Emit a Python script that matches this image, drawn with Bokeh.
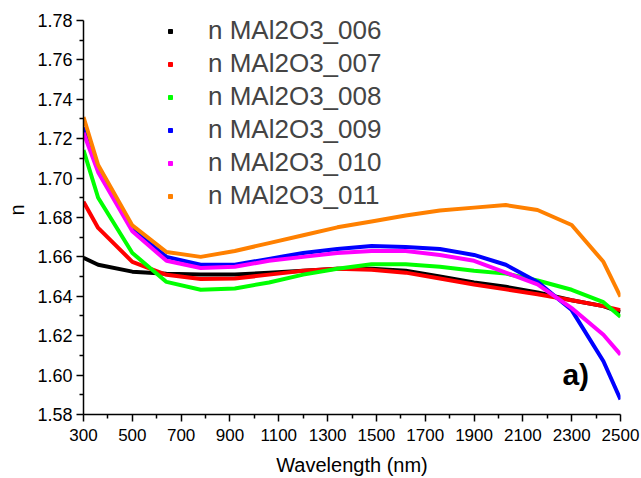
from bokeh.plotting import figure
from bokeh.models import Range1d, FixedTicker, NumeralTickFormatter, Legend, LegendItem, Label
from bokeh.embed import file_html
from bokeh.resources import INLINE

wavelength = [300, 360, 500, 640, 780, 920, 1060, 1200, 1340, 1480, 1620, 1760, 1900, 2030, 2160, 2300, 2430, 2500]

n_006 = [1.6595, 1.656, 1.6525, 1.6514, 1.651, 1.651, 1.652, 1.653, 1.654, 1.654, 1.653, 1.650, 1.647, 1.6448, 1.642, 1.638, 1.635, 1.632]
n_007 = [1.688, 1.6747, 1.6575, 1.6509, 1.6488, 1.649, 1.651, 1.653, 1.654, 1.6535, 1.652, 1.649, 1.646, 1.6435, 1.641, 1.638, 1.635, 1.633]
n_008 = [1.7142, 1.690, 1.662, 1.6473, 1.6433, 1.644, 1.647, 1.651, 1.654, 1.6563, 1.6563, 1.655, 1.653, 1.6515, 1.648, 1.6433, 1.637, 1.6296]
n_009 = [1.7258, 1.704, 1.674, 1.660, 1.656, 1.656, 1.659, 1.662, 1.664, 1.6655, 1.665, 1.664, 1.661, 1.656, 1.6473, 1.633, 1.607, 1.5876]
n_010 = [1.723, 1.703, 1.673, 1.658, 1.6544, 1.655, 1.658, 1.660, 1.662, 1.663, 1.663, 1.661, 1.658, 1.652, 1.646, 1.634, 1.6205, 1.6104]
n_011 = [1.731, 1.7066, 1.676, 1.6625, 1.660, 1.663, 1.667, 1.671, 1.675, 1.678, 1.681, 1.6835, 1.685, 1.6863, 1.6838, 1.6762, 1.6575, 1.6398]

series_names = ["n MAl2O3_006", "n MAl2O3_007", "n MAl2O3_008", "n MAl2O3_009", "n MAl2O3_010", "n MAl2O3_011"]
series_values = [n_006, n_007, n_008, n_009, n_010, n_011]
series_colors = ["#000000", "#ff0000", "#00ff00", "#0000ff", "#ff00ff", "#ff8000"]

x_ticks = [300, 500, 700, 900, 1100, 1300, 1500, 1700, 1900, 2100, 2300, 2500]
x_minor = [400, 600, 800, 1000, 1200, 1400, 1600, 1800, 2000, 2200, 2400]
y_ticks = [1.58, 1.60, 1.62, 1.64, 1.66, 1.68, 1.70, 1.72, 1.74, 1.76, 1.78]
y_minor = [1.59, 1.61, 1.63, 1.65, 1.67, 1.69, 1.71, 1.73, 1.75, 1.77]

FONT = "Liberation Sans"

# frame extended 15 px above the 1.78 tick so the legend stays inside the frame;
# the y axis itself is bounded to 1.58..1.78
p = figure(width=641, height=478, output_backend="svg", toolbar_location=None,
           x_range=Range1d(300, 2500), y_range=Range1d(1.58, 1.78 + 15 / 1975),
           min_border_left=83, min_border_right=21, min_border_top=5, min_border_bottom=63)
p.outline_line_color = None
p.xgrid.visible = False
p.ygrid.visible = False
p.background_fill_color = "white"
p.border_fill_color = "white"

items = []
for name, vals, col in zip(series_names, series_values, series_colors):
    p.line(wavelength, vals, line_color=col, line_width=4)
    r = p.scatter(wavelength, vals, marker="square", size=0, fill_color=col, line_color=col)
    items.append(LegendItem(label=name, renderers=[r]))

legend = Legend(items=items, location=(82, 202), padding=0, margin=0, spacing=0,
                glyph_width=10, glyph_height=10, label_height=33, label_standoff=33,
                label_text_font=FONT, label_text_font_size="26px",
                border_line_color=None, background_fill_alpha=0)
p.add_layout(legend, "center")

for ax in [p.xaxis[0], p.yaxis[0]]:
    ax.axis_line_width = 1.5
    ax.axis_line_color = "black"
    ax.major_tick_line_width = 1.5
    ax.minor_tick_line_width = 1.5
    ax.major_tick_out = 7
    ax.major_tick_in = 0
    ax.minor_tick_out = 4
    ax.minor_tick_in = 0
    ax.major_label_text_font = FONT
    ax.major_label_text_color = "black"
    ax.axis_label_text_font = FONT
    ax.axis_label_text_font_size = "20px"
    ax.axis_label_text_font_style = "normal"
    ax.axis_label_text_color = "black"

p.yaxis[0].bounds = (1.58, 1.78)
p.xaxis[0].major_label_text_font_size = "17px"
p.yaxis[0].major_label_text_font_size = "18px"
p.xaxis[0].ticker = FixedTicker(ticks=x_ticks, minor_ticks=x_minor)
p.yaxis[0].ticker = FixedTicker(ticks=y_ticks, minor_ticks=y_minor)
p.yaxis[0].formatter = NumeralTickFormatter(format="0.00")
p.xaxis[0].axis_label = "Wavelength (nm)"
p.yaxis[0].axis_label = "n"
p.xaxis[0].axis_label_standoff = 10
p.yaxis[0].axis_label_standoff = 6
p.xaxis[0].major_label_standoff = 7
p.yaxis[0].major_label_standoff = 4

p.add_layout(Label(x=2262, y=1.5917, text="a)", text_font=FONT, text_font_style="bold",
                   text_font_size="30px", text_color="black"))

open("out.html", "w").write(file_html(p, INLINE))
